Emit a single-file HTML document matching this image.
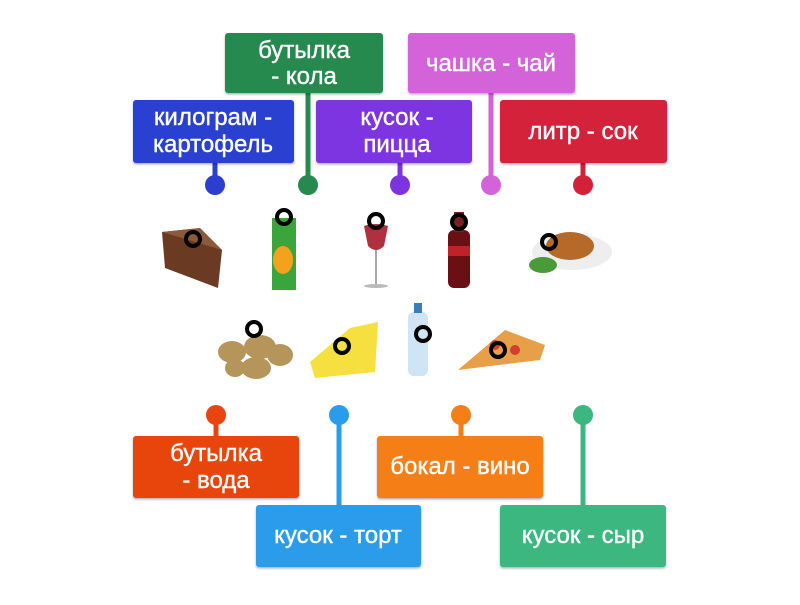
<!DOCTYPE html>
<html><head><meta charset="utf-8"><style>
body{margin:0;background:#fff;width:800px;height:600px;overflow:hidden}
svg text{font-family:"Liberation Sans",sans-serif;font-size:24px;fill:#fff;text-anchor:middle;stroke:#fff;stroke-width:0.4}
</style></head><body>
<svg width="800" height="600" viewBox="0 0 800 600">
<defs>
<filter id="sh" x="-10%" y="-10%" width="120%" height="130%"><feDropShadow dx="0" dy="1.5" stdDeviation="1" flood-opacity="0.3"/></filter>
</defs>
<g stroke-width="5">
<line x1="308" y1="90" x2="308" y2="185" stroke="#26894d"/>
<line x1="491" y1="90" x2="491" y2="185" stroke="#d462d9"/>
<line x1="215" y1="160" x2="215" y2="185" stroke="#2a3fd0"/>
<line x1="400" y1="160" x2="400" y2="185" stroke="#7c34e0"/>
<line x1="583" y1="160" x2="583" y2="185" stroke="#d4213a"/>
<line x1="216" y1="415" x2="216" y2="440" stroke="#e8440f"/>
<line x1="339" y1="415" x2="339" y2="508" stroke="#2b9ce9"/>
<line x1="461" y1="415" x2="461" y2="440" stroke="#f57f17"/>
<line x1="583" y1="415" x2="583" y2="508" stroke="#3bb77f"/>
</g>
<circle cx="215" cy="185" r="10" fill="#2a3fd0"/>
<circle cx="308" cy="185" r="10" fill="#26894d"/>
<circle cx="400" cy="185" r="10" fill="#7c34e0"/>
<circle cx="491" cy="185" r="10" fill="#d462d9"/>
<circle cx="583" cy="185" r="10" fill="#d4213a"/>
<circle cx="216" cy="415" r="10" fill="#e8440f"/>
<circle cx="339" cy="415" r="10" fill="#2b9ce9"/>
<circle cx="461" cy="415" r="10" fill="#f57f17"/>
<circle cx="583" cy="415" r="10" fill="#3bb77f"/>
<g filter="url(#sh)">
<rect x="225" y="33" width="158" height="60" rx="3" fill="#26894d"/>
<rect x="408" y="33" width="167" height="60" rx="3" fill="#d462d9"/>
<rect x="133" y="100" width="161" height="63" rx="3" fill="#2a3fd0"/>
<rect x="316" y="100" width="156" height="63" rx="3" fill="#7c34e0"/>
<rect x="500" y="100" width="167" height="63" rx="3" fill="#d4213a"/>
<rect x="133" y="436" width="166" height="62" rx="3" fill="#e8440f"/>
<rect x="256" y="505" width="165" height="62" rx="3" fill="#2b9ce9"/>
<rect x="377" y="436" width="166" height="62" rx="3" fill="#f57f17"/>
<rect x="500" y="505" width="166" height="62" rx="3" fill="#3bb77f"/>
</g>
<text x="304" y="58">бутылка</text><text x="304" y="84">- кола</text>
<text x="491" y="71">чашка - чай</text>
<text x="213" y="125">килограм -</text><text x="213" y="152">картофель</text>
<text x="397" y="125">кусок -</text><text x="397" y="152">пицца</text>
<text x="583" y="139">литр - сок</text>
<text x="216" y="461">бутылка</text><text x="216" y="488">- вода</text>
<text x="338" y="543">кусок - торт</text>
<text x="460" y="474">бокал - вино</text>
<text x="583" y="543">кусок - сыр</text>
<polygon points="162,232 200,228 222,250 218,288 165,268" fill="#6b3a22"/>
<polygon points="162,232 200,228 222,250" fill="#8a5a3a"/>
<rect x="272" y="218" width="24" height="72" fill="#3aa53a"/>
<ellipse cx="283" cy="260" rx="10" ry="14" fill="#f3a21d"/>
<path d="M364,226 Q376,222 388,226 L384,246 Q376,254 368,246Z" fill="#b03040"/>
<line x1="376" y1="250" x2="376" y2="285" stroke="#aaa" stroke-width="2"/>
<ellipse cx="376" cy="286" rx="12" ry="2" fill="#bbb"/>
<rect x="448" y="230" width="22" height="58" rx="6" fill="#6a1014"/>
<rect x="454" y="212" width="10" height="20" fill="#7a2020"/>
<rect x="448" y="246" width="22" height="10" fill="#c0222a"/>
<ellipse cx="572" cy="252" rx="40" ry="18" fill="#eee"/>
<ellipse cx="570" cy="246" rx="24" ry="14" fill="#b56a2a"/>
<ellipse cx="543" cy="265" rx="14" ry="8" fill="#4a9a3a"/>
<g fill="#b5955a">
<ellipse cx="232" cy="352" rx="14" ry="11"/><ellipse cx="260" cy="347" rx="16" ry="12"/>
<ellipse cx="280" cy="355" rx="13" ry="11"/><ellipse cx="256" cy="368" rx="15" ry="11"/>
<ellipse cx="235" cy="368" rx="10" ry="9"/></g>
<polygon points="310,362 350,328 378,322 375,372 315,378" fill="#f6e040"/>
<rect x="408" y="312" width="20" height="64" rx="6" fill="#cfe4f4"/>
<rect x="414" y="303" width="8" height="10" fill="#3a7ec0"/>
<polygon points="458,370 505,330 545,345 540,360" fill="#e8a048"/>
<circle cx="495" cy="345" r="5" fill="#d04030"/><circle cx="515" cy="350" r="5" fill="#d04030"/>
<g fill="none" stroke="#000" stroke-width="4">
<circle cx="193" cy="239" r="7"/><circle cx="284" cy="217" r="7"/>
<circle cx="376" cy="221" r="7"/><circle cx="459" cy="222" r="7"/>
<circle cx="549" cy="242" r="7"/><circle cx="254" cy="329" r="7"/>
<circle cx="342" cy="346" r="7"/><circle cx="423" cy="334" r="7"/>
<circle cx="498" cy="350" r="7"/>
</g>
</svg>
</body></html>
